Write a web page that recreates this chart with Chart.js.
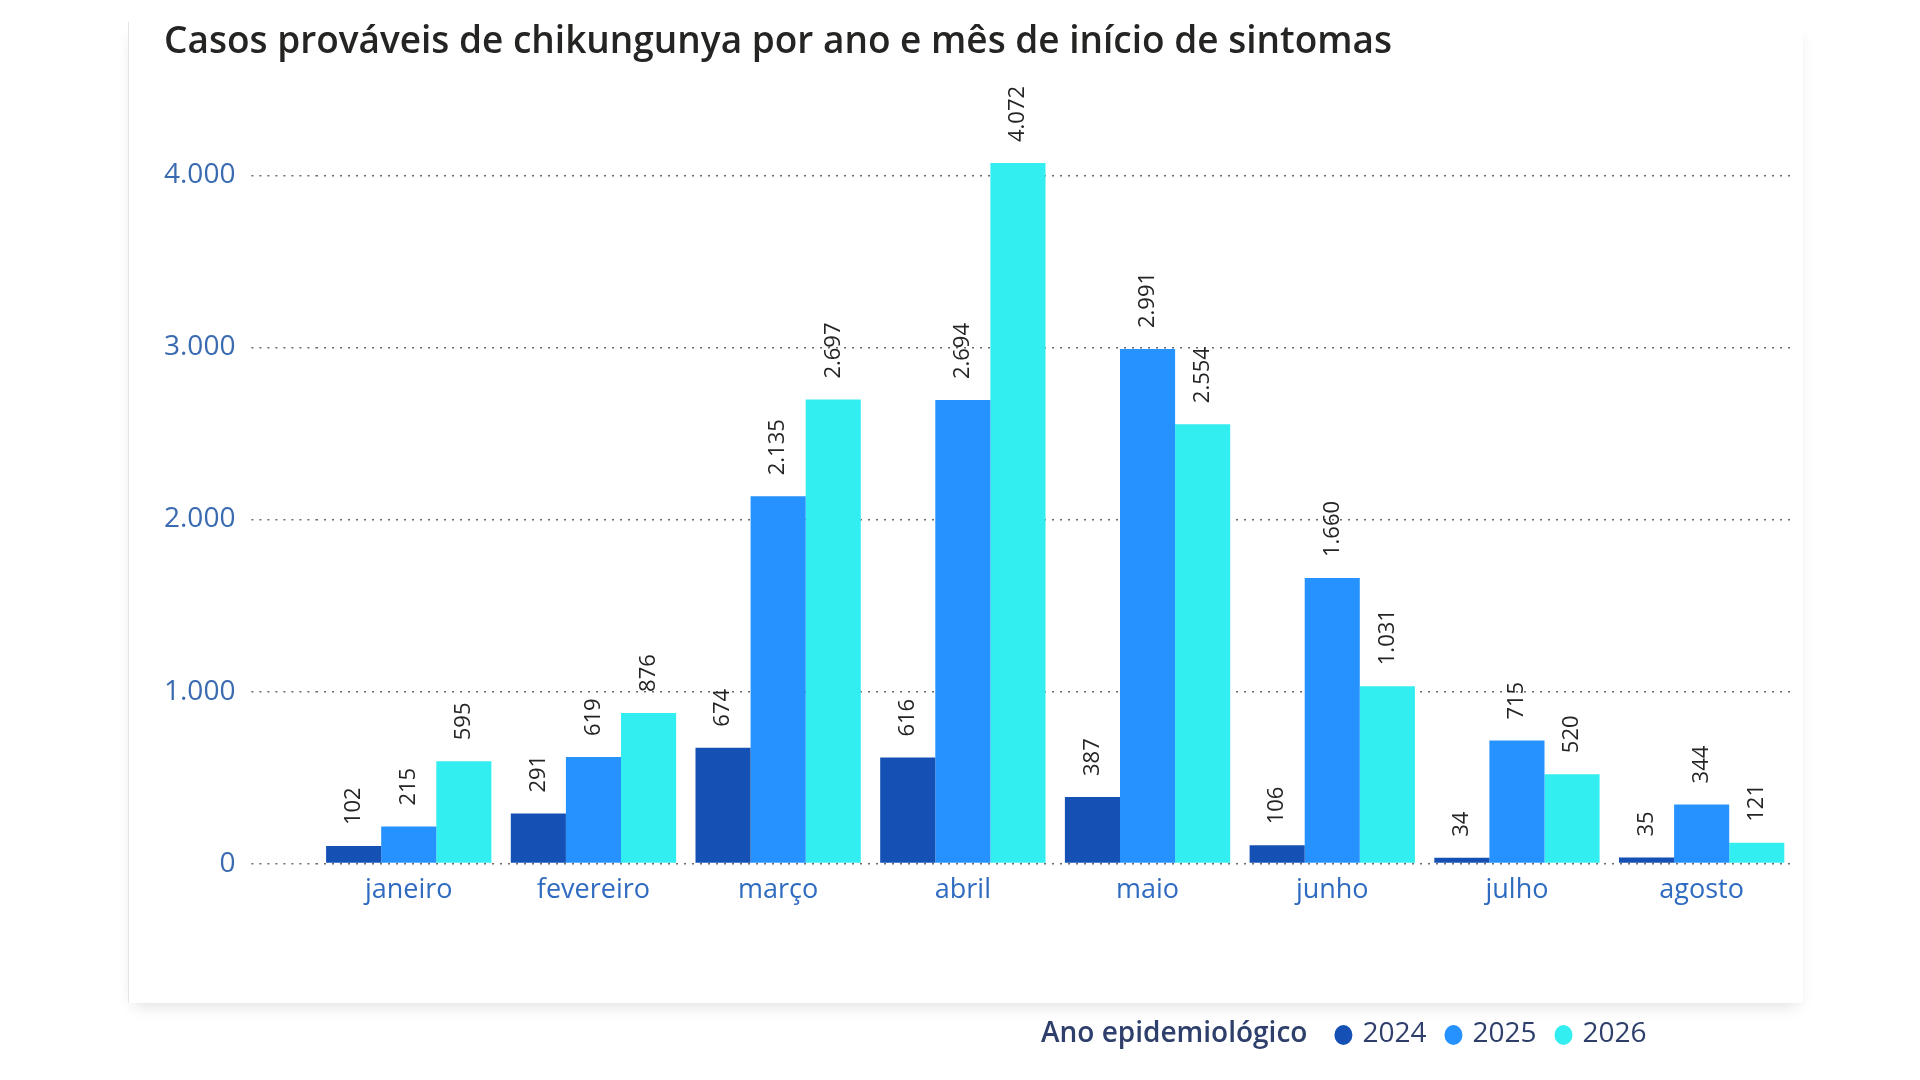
<!DOCTYPE html>
<html lang="pt-BR">
  <head>
    <meta charset="UTF-8" />
    <title>Casos prováveis de chikungunya</title>
    <style>
      body {
        margin: 0;
        background: #ffffff;
        width: 1920px;
        height: 1080px;
        overflow: hidden;
        position: relative;
        font-family: "Open Sans", sans-serif;
      }
      .card {
        position: absolute;
        left: 128px;
        top: 22px;
        width: 1674px;
        height: 981px;
        background: #ffffff;
        border-left: 1px solid #e6e6e6;
        box-shadow: 0 8px 16px -6px rgba(0, 0, 0, 0.14);
      }
      .wrap {
        position: absolute;
        left: 0;
        top: 0;
        width: 1920px;
        height: 1080px;
      }
    </style>
  </head>
  <body>
    <div class="card"></div>
    <div class="wrap"><canvas id="chart"></canvas></div>

    <script src="https://cdn.jsdelivr.net/npm/chart.js@4.4.1/dist/chart.umd.min.js"></script>
    <script>
      const months = ["janeiro", "fevereiro", "março", "abril", "maio", "junho", "julho", "agosto"];
      const years = ["2024", "2025", "2026"];
      const cases2024 = [102, 291, 674, 616, 387, 106, 34, 35];
      const cases2025 = [215, 619, 2135, 2694, 2991, 1660, 715, 344];
      const cases2026 = [595, 876, 2697, 4072, 2554, 1031, 520, 121];
      const yTicks = [0, 1000, 2000, 3000, 4000];
      const yMax = 4500;
      const legendTitle = "Ano epidemiológico";
      const colors = ["#1550B4", "#2592FF", "#33EEF0"];

      // 1234 -> "1.234"
      const fmt = (v) => String(v).replace(/\B(?=(\d{3})+(?!\d))/g, ".");

      const valueLabels = {
        id: "valueLabels",
        afterDatasetsDraw(chart) {
          const ctx = chart.ctx;
          ctx.save();
          ctx.font = '400 22px "Open Sans"';
          ctx.fillStyle = "#252423";
          ctx.textAlign = "left";
          ctx.textBaseline = "middle";
          chart.data.datasets.forEach((ds, i) => {
            chart.getDatasetMeta(i).data.forEach((bar, j) => {
              ctx.save();
              ctx.translate(bar.x, bar.y - 21);
              ctx.rotate(-Math.PI / 2);
              ctx.fillText(fmt(ds.data[j]), 0, 0);
              ctx.restore();
            });
          });
          ctx.restore();
        },
      };

      const sideLegend = {
        id: "sideLegend",
        afterDraw(chart) {
          const ctx = chart.ctx;
          const y = 1034;
          let x = 1041;
          ctx.save();
          ctx.textBaseline = "middle";
          ctx.textAlign = "left";
          ctx.fillStyle = "#2E3F6B";
          ctx.font = '600 28px "Open Sans"';
          ctx.fillText(legendTitle, x, y);
          x += ctx.measureText(legendTitle).width + 36;
          ctx.font = '400 28px "Open Sans"';
          chart.data.datasets.forEach((ds) => {
            ctx.fillStyle = ds.backgroundColor;
            ctx.beginPath();
            ctx.ellipse(x, y + 1, 9, 10, 0, 0, Math.PI * 2);
            ctx.fill();
            x += 19;
            ctx.fillStyle = "#2E3F6B";
            ctx.fillText(ds.label, x, y);
            x += ctx.measureText(ds.label).width + 27;
          });
          ctx.restore();
        },
      };

      new Chart(document.getElementById("chart"), {
        type: "bar",
        data: {
          labels: months,
          datasets: [
            { label: years[0], data: cases2024, backgroundColor: colors[0] },
            { label: years[1], data: cases2025, backgroundColor: colors[1] },
            { label: years[2], data: cases2026, backgroundColor: colors[2] },
          ],
        },
        options: {
          responsive: true,
          maintainAspectRatio: false,
          animation: false,
          datasets: {
            bar: { categoryPercentage: 0.895, barPercentage: 1.0 },
          },
          layout: { padding: { left: 164, right: 126, top: 0, bottom: 170 } },
          plugins: {
            legend: { display: false },
            tooltip: { enabled: false },
            title: {
              display: true,
              text: "Casos prováveis de chikungunya por ano e mês de início de sintomas",
              align: "start",
              color: "#252423",
              font: { family: "Open Sans", size: 37, weight: "600" },
              padding: { top: 20, bottom: 25 },
            },
          },
          scales: {
            x: {
              grid: { display: false },
              border: { display: false },
              ticks: {
                color: "#2F6BC0",
                padding: 3,
                font: { family: "Open Sans", size: 27 },
              },
            },
            y: {
              min: 0,
              max: yMax,
              afterBuildTicks: (scale) => {
                scale.ticks = yTicks.map((v) => ({ value: v }));
              },
              // fit() counts the tick padding twice; drop the outer copy
              afterFit: (scale) => {
                scale.width -= 16;
              },
              border: { display: false, dash: [2, 6] },
              grid: {
                color: "#6b6b6b",
                lineWidth: 1.5,
                drawTicks: true,
                tickLength: 65,
                tickColor: "#6b6b6b",
                tickWidth: 1.5,
                tickBorderDash: [2, 6],
              },
              ticks: {
                autoSkip: false,
                padding: 16,
                color: "#3A6AB0",
                font: { family: "Open Sans", size: 28 },
                callback: (v) => fmt(v),
              },
            },
          },
        },
        plugins: [valueLabels, sideLegend],
      });
    </script>
  </body>
</html>
